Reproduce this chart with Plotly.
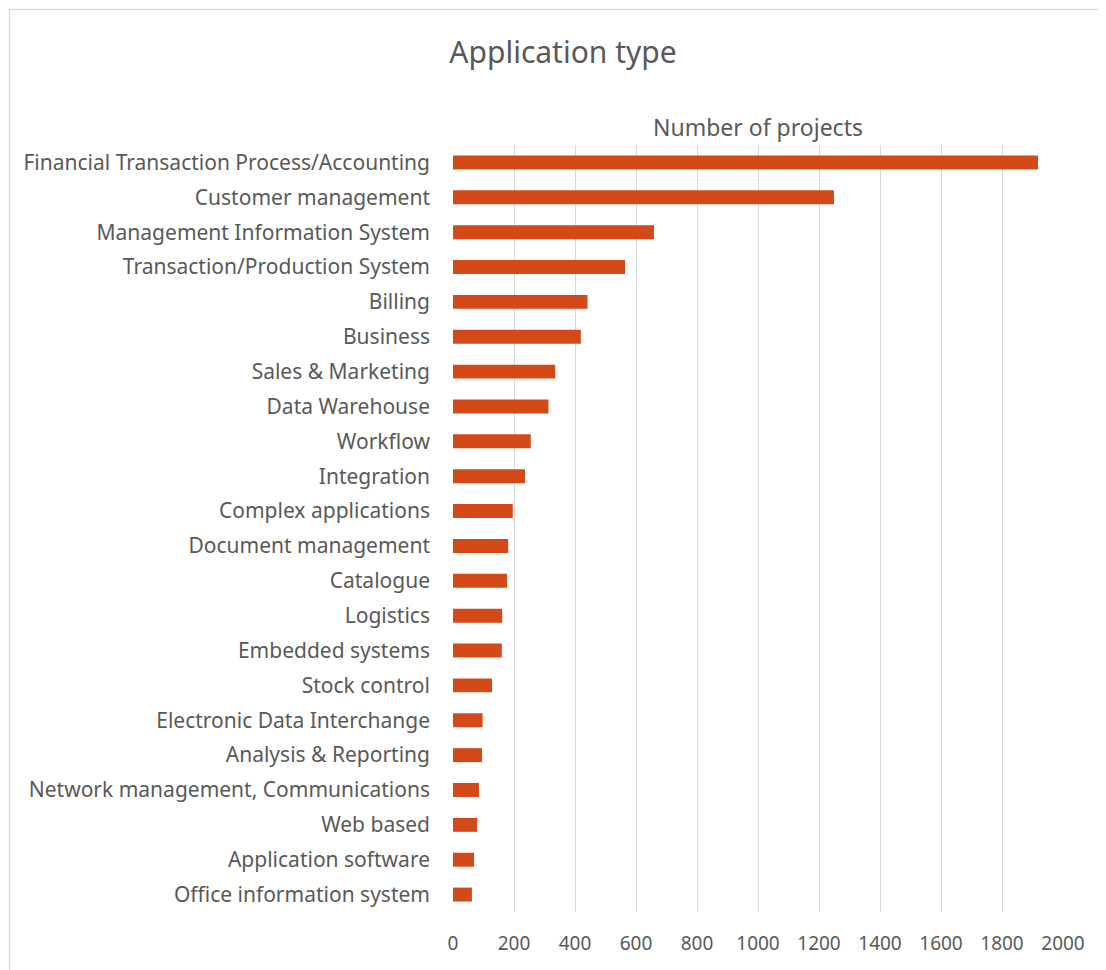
import plotly.graph_objects as go

categories = [
    "Financial Transaction Process/Accounting",
    "Customer management",
    "Management Information System",
    "Transaction/Production System",
    "Billing",
    "Business",
    "Sales & Marketing",
    "Data Warehouse",
    "Workflow",
    "Integration",
    "Complex applications",
    "Document management",
    "Catalogue",
    "Logistics",
    "Embedded systems",
    "Stock control",
    "Electronic Data Interchange",
    "Analysis & Reporting",
    "Network management, Communications",
    "Web based",
    "Application software",
    "Office information system",
]
projects = [1918, 1249, 659, 564, 441, 419, 335, 313, 255, 236, 196, 181,
            177, 161, 160, 128, 97, 95, 85, 79, 69, 62]
x_ticks = [0, 200, 400, 600, 800, 1000, 1200, 1400, 1600, 1800, 2000]

OFF = 8  # page body margin
W, H = 1106 - OFF, 970 - OFF
L, R, T, B = 453 - OFF, 1063 - OFF, 145 - OFF, 912 - OFF

txt = "#595959"
font_family = "Noto Sans"

fig = go.Figure()
fig.add_trace(go.Bar(
    x=projects, y=categories, orientation="h",
    marker=dict(color="#D34A18", line=dict(width=0)),
    width=0.4,
    showlegend=False,
))

pw = R - L
ph = B - T

fig.update_layout(
    width=W, height=H,
    margin=dict(l=L, r=W - R, t=T, b=H - B, pad=0),
    paper_bgcolor="white", plot_bgcolor="white",
    font=dict(family=font_family, color=txt, size=21),
    title=dict(text="Application type", x=(563 - OFF) / W, xanchor="center",
               y=1 - (52 - OFF) / H, yanchor="middle",
               font=dict(size=30, color=txt, family=font_family)),
    xaxis=dict(range=[0, 2000], tickvals=x_ticks, showgrid=True,
               gridcolor="#D9D9D9", gridwidth=1.3, zeroline=False,
               showline=False, ticks="", ticklabelstandoff=18,
               tickfont=dict(size=19, color=txt)),
    yaxis=dict(categoryorder="array", categoryarray=categories,
               autorange="reversed", showgrid=False, zeroline=False,
               showline=False, ticks="", ticklabelstandoff=22,
               tickfont=dict(size=21, color=txt)),
    annotations=[dict(text="Number of projects", xref="paper", yref="paper",
                      x=(758 - 453) / pw, y=1 + (145 - 127) / ph,
                      xanchor="center", yanchor="middle", showarrow=False,
                      font=dict(size=23, color=txt, family=font_family))],
    shapes=[dict(type="rect", xref="paper", yref="paper",
                 x0=(9.5 - 453) / pw, x1=(1106 + 20 - 453) / pw,
                 y0=(912 - (970 + 20)) / ph, y1=(912 - 9.5) / ph,
                 line=dict(color="#D9D9D9", width=1.3), layer="below")],
)

fig.write_html("out.html")
